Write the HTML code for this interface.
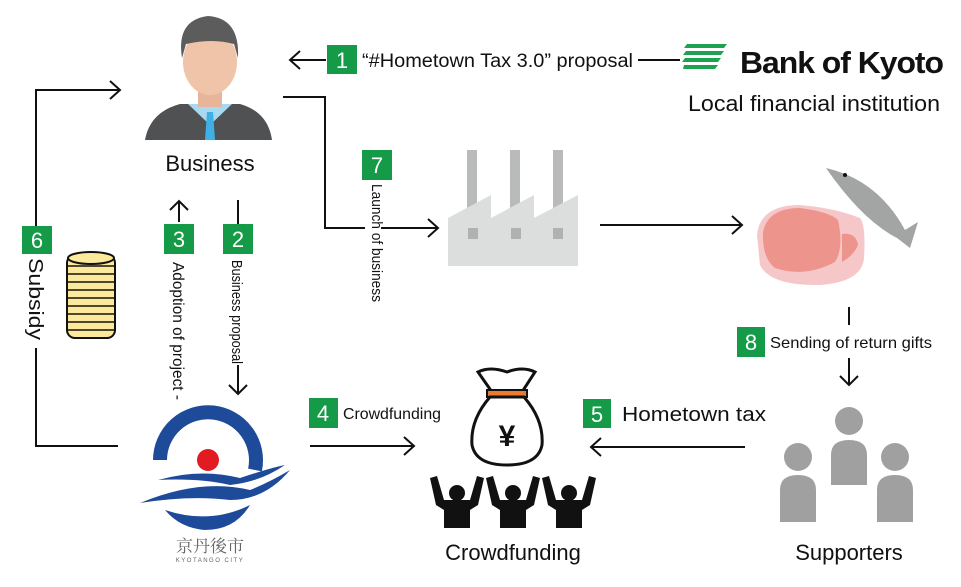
<!DOCTYPE html>
<html><head><meta charset="utf-8"><style>
html,body{margin:0;padding:0;background:#fff;}
svg{display:block;}
text{font-family:"Liberation Sans","Noto Sans CJK JP",sans-serif;fill:#111;}
.n{fill:#fff;font-size:22px;text-anchor:middle;}
</style></head><body>
<svg width="961" height="587" viewBox="0 0 961 587" xmlns="http://www.w3.org/2000/svg">
<g fill="none" stroke="#111" stroke-width="2">
<path d="M290 60H326M300 51L290 60L300 69"/>
<path d="M638 60H680"/>
<path d="M283 97H325V228H438M428 219L438 228L428 237"/>
<path d="M600 225H742M732 216L742 225L732 234"/>
<path d="M849 307V325M849 358V385M840 376L849 385L858 376"/>
<path d="M745 447H591M601 438L591 447L601 456"/>
<path d="M310 446H414M404 437L414 446L404 455"/>
<path d="M36 226V90H120M110 81L120 90L110 99"/>
<path d="M36 348V446H118"/>
<path d="M179 222V201M170 210L179 201L188 210"/>
<path d="M238 200V224M238 365V394M229 385L238 394L247 385"/>
</g>
<rect x="365" y="184" width="16" height="118" fill="#fff"/>
<g fill="#159a48">
<rect x="327" y="45" width="30" height="29"/>
<rect x="362" y="150" width="30" height="30"/>
<rect x="737" y="327" width="28" height="30"/>
<rect x="583" y="399" width="28" height="29"/>
<rect x="309" y="398" width="29" height="30"/>
<rect x="22" y="226" width="30" height="28"/>
<rect x="164" y="224" width="30" height="30"/>
<rect x="223" y="224" width="30" height="30"/>
</g>
<text class="n" x="342" y="68">1</text>
<text class="n" x="377" y="173">7</text>
<text class="n" x="751" y="350">8</text>
<text class="n" x="597" y="422">5</text>
<text class="n" x="323" y="421">4</text>
<text class="n" x="37" y="248">6</text>
<text class="n" x="179" y="247">3</text>
<text class="n" x="238" y="247">2</text>
<text x="362" y="67" font-size="19" textLength="271" lengthAdjust="spacingAndGlyphs">“#Hometown Tax 3.0” proposal</text>
<text x="770" y="348" font-size="16" textLength="162" lengthAdjust="spacingAndGlyphs">Sending of return gifts</text>
<text x="622" y="421" font-size="20" textLength="144" lengthAdjust="spacingAndGlyphs">Hometown tax</text>
<text x="343" y="419" font-size="16" textLength="98" lengthAdjust="spacingAndGlyphs">Crowdfunding</text>
<text transform="translate(372,184) rotate(90)" font-size="15" textLength="118" lengthAdjust="spacingAndGlyphs">Launch of business</text>
<text transform="translate(29,258) rotate(90)" font-size="20" textLength="82" lengthAdjust="spacingAndGlyphs">Subsidy</text>
<text transform="translate(173,262) rotate(90)" font-size="16" textLength="138" lengthAdjust="spacingAndGlyphs">Adoption of project -</text>
<text transform="translate(232,260) rotate(90)" font-size="15" textLength="104" lengthAdjust="spacingAndGlyphs">Business proposal</text>
<text x="210" y="171" font-size="22" text-anchor="middle">Business</text>
<text x="513" y="560" font-size="22" text-anchor="middle">Crowdfunding</text>
<text x="849" y="560" font-size="22" text-anchor="middle">Supporters</text>
<text x="688" y="111" font-size="22" textLength="252" lengthAdjust="spacingAndGlyphs">Local financial institution</text>
<g fill="#1ea24f">
<polygon points="687,44 727,44 724,48 684,48"/>
<polygon points="686,51 724,51 721,55 683,55"/>
<polygon points="685,58 721,58 718,62 682,62"/>
<polygon points="684,65 718,65 715,69 683,69"/>
</g>
<text x="740" y="73" font-size="31" font-weight="bold" textLength="203" lengthAdjust="spacingAndGlyphs" style="letter-spacing:-1px">Bank of Kyoto</text>
<!-- businessman -->
<path d="M145 140Q150 112 180 104L240 104Q268 112 272 140Z" fill="#505152"/>
<path d="M188 104L210 125L232 104Z" fill="#a8d9f2"/>
<path d="M207 112L213 112L215 140L205 140Z" fill="#3fb0e6"/>
<rect x="198" y="85" width="24" height="22" fill="#e6b59a"/>
<ellipse cx="210" cy="62" rx="27" ry="33" fill="#f0c4a8"/>
<path d="M182 58Q176 20 208 16Q240 18 238 58L234 44Q212 38 186 44Z" fill="#5c5c5c"/>
<!-- factory -->
<g fill="#b9bbbb"><rect x="467" y="150" width="10" height="62"/><rect x="510" y="150" width="10" height="62"/><rect x="553" y="150" width="10" height="62"/></g>
<polygon points="448,218 491,195 491,218 534,195 534,218 578,195 578,266 448,266" fill="#dcdedd"/>
<g fill="#b0b2b1"><rect x="468" y="228" width="10" height="11"/><rect x="511" y="228" width="10" height="11"/><rect x="553" y="228" width="10" height="11"/></g>
<!-- meat -->
<path d="M757 235Q760 205 800 205Q835 208 860 218Q866 225 864 258Q862 282 820 285Q770 286 760 265Z" fill="#f6c7c8"/>
<path d="M763 232Q768 208 800 208Q830 212 838 220Q844 248 835 262Q805 278 775 268Q762 258 763 232Z" fill="#ed948c"/>
<path d="M842 234Q856 232 858 245Q854 255 842 262Z" fill="#ed948c"/>
<!-- fish -->
<path d="M826 168Q878 180 905 230L918 222L910 248L897 238Q862 220 826 168Z" fill="#a3a4a4"/>
<circle cx="845" cy="175" r="2" fill="#111"/>
<!-- supporters -->
<g fill="#a0a0a0">
<circle cx="849" cy="421" r="14"/><path d="M831 485V455Q831 440 849 440Q867 440 867 455V485Z"/>
<circle cx="798" cy="457" r="14"/><path d="M780 522V490Q780 475 798 475Q816 475 816 490V522Z"/>
<circle cx="895" cy="457" r="14"/><path d="M877 522V490Q877 475 895 475Q913 475 913 490V522Z"/>
</g>
<!-- money bag -->
<path d="M478 372Q490 366 507 372Q523 366 535 372L522 392H492Z" fill="none" stroke="#111" stroke-width="3"/>
<rect x="487" y="390" width="40" height="7" fill="#ee7a30" stroke="#111" stroke-width="2"/>
<path d="M490 397Q470 420 472 445Q476 465 507 465Q538 465 542 445Q544 420 524 397Z" fill="#fff" stroke="#111" stroke-width="3"/>
<text x="507" y="446" font-size="30" font-weight="bold" text-anchor="middle">¥</text>
<g fill="#111">
<g id="p"><circle cx="457" cy="493" r="8"/><path d="M430 478L437 476L444 500H470L477 476L484 478L478 505L470 510V528H444V510L436 505Z"/></g>
<use href="#p" x="56"/><use href="#p" x="112"/>
</g>
<!-- coins -->
<rect x="67" y="255" width="48" height="83" rx="8" fill="#fde99a" stroke="#111" stroke-width="2"/>
<path d="M68 266H114M68 274H114M68 282H114M68 290H114M68 298H114M68 306H114M68 314H114M68 322H114M68 330H114" stroke="#111" stroke-width="1.5"/>
<ellipse cx="91" cy="258" rx="23" ry="6" fill="#fde99a" stroke="#111" stroke-width="2"/>
<!-- city logo -->
<path d="M160 460A48 48 0 1 1 255 470" fill="none" stroke="#1e4a9a" stroke-width="14"/>
<circle cx="208" cy="460" r="11" fill="#e21b22"/>
<path d="M140 503Q200 478 250 490Q270 482 290 470Q265 500 230 500Q190 495 140 503Z" fill="#1e4a9a"/>
<path d="M158 480Q200 468 240 478Q270 468 285 465Q260 482 230 485Q200 478 158 480Z" fill="#1e4a9a"/>
<path d="M165 510Q210 525 250 505Q235 530 205 530Q180 528 165 510Z" fill="#1e4a9a"/>
<text x="210" y="552" font-size="17" text-anchor="middle" style="fill:#666;font-family:'Noto Serif CJK SC',serif">京丹後市</text>
<text x="210" y="562" font-size="6" text-anchor="middle" style="fill:#666;letter-spacing:1.5px">KYOTANGO CITY</text>
</svg>
</body></html>
